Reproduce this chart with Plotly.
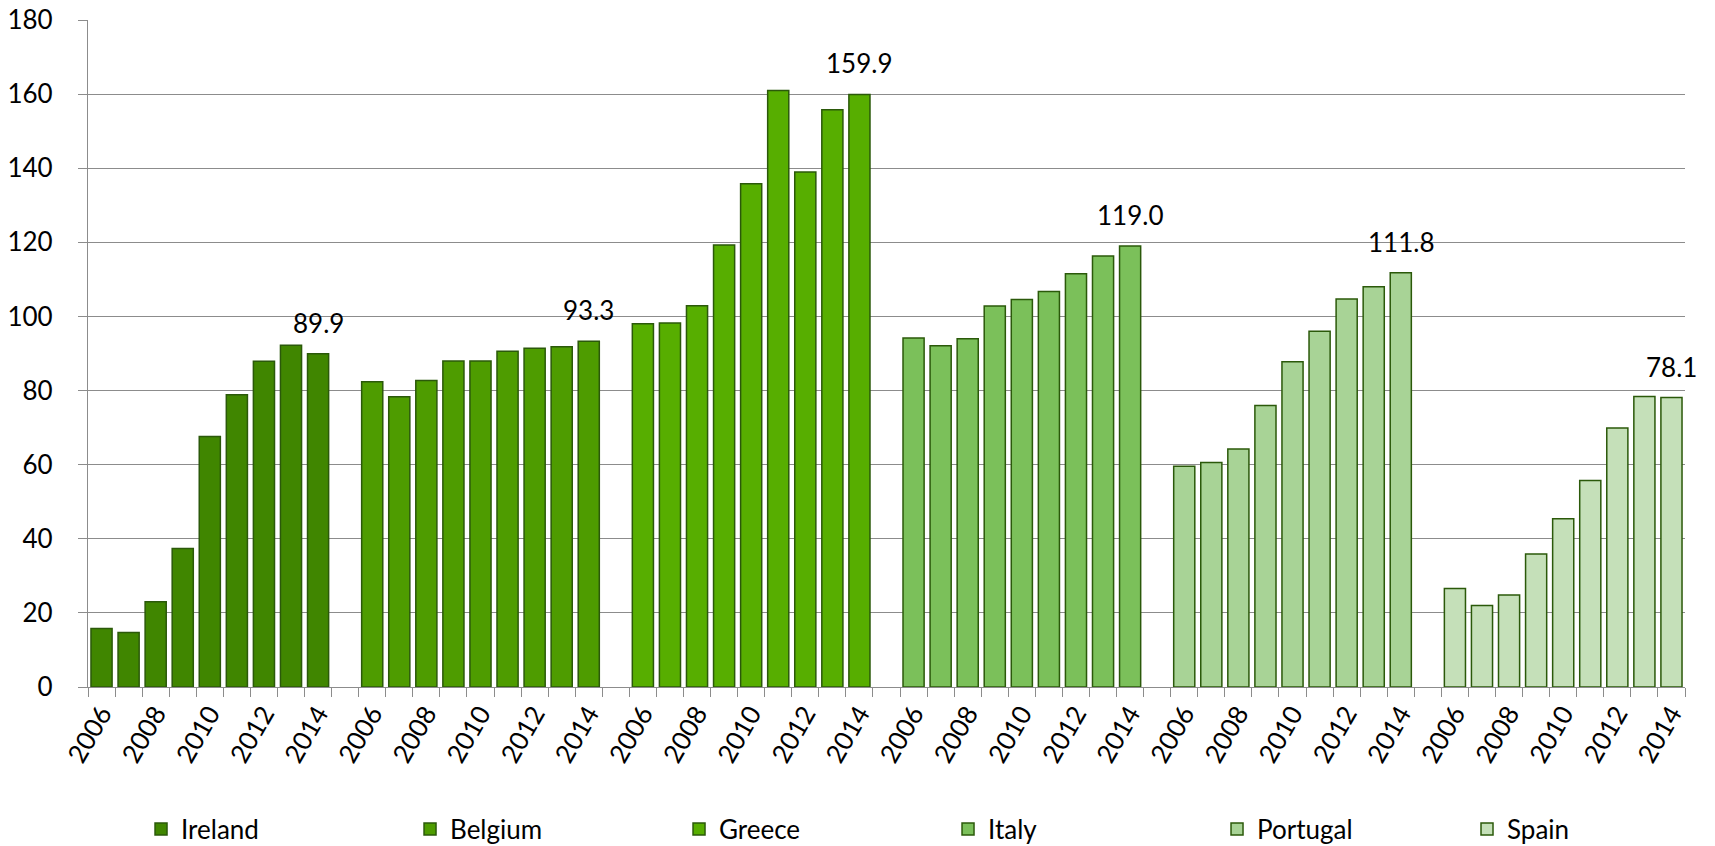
import plotly.graph_objects as go

years = [2006, 2007, 2008, 2009, 2010, 2011, 2012, 2013, 2014]
countries = ["Ireland", "Belgium", "Greece", "Italy", "Portugal", "Spain"]

ireland = [15.8, 14.7, 23.0, 37.4, 67.6, 78.9, 87.9, 92.2, 89.9]
belgium = [82.4, 78.3, 82.7, 88.0, 88.0, 90.6, 91.4, 91.8, 93.3]
greece = [98.0, 98.2, 102.9, 119.3, 135.8, 161.0, 139.0, 155.8, 159.9]
italy = [94.2, 92.1, 94.0, 102.8, 104.6, 106.7, 111.5, 116.3, 119.0]
portugal = [59.6, 60.6, 64.2, 76.0, 87.8, 96.0, 104.7, 108.0, 111.8]
spain = [26.6, 22.0, 24.8, 35.9, 45.4, 55.7, 69.9, 78.4, 78.1]

series = [ireland, belgium, greece, italy, portugal, spain]
colors = ["#408600", "#4e9c00", "#57ae00", "#7bc05a", "#a8d396", "#c5e0b9"]
edge = "#2b590a"
grid = "#8c8c8c"
font = "Lato, 'Open Sans', sans-serif"

# each country gets 9 slots plus one empty slot before the next one
slot = len(years) + 1

fig = go.Figure()
tickvals, ticktext = [], []
for g, (name, vals, col) in enumerate(zip(countries, series, colors)):
    xs = [g * slot + i for i in range(len(years))]
    fig.add_trace(go.Bar(
        x=xs, y=vals, name=name,
        marker=dict(color=col, line=dict(color=edge, width=1.5)),
        width=0.78,
        hoverinfo="x+y",
        # the last legend entry sits in its own box so the row keeps Excel's spacing
        legend="legend2" if g == len(countries) - 1 else "legend",
    ))
    # value label over the latest year
    fig.add_annotation(
        x=xs[-1], y=vals[-1], text=f"{vals[-1]:.1f}",
        showarrow=False, yanchor="bottom", yshift=13,
        font=dict(size=26, color="black", family=font),
    )
    for i, yr in enumerate(years):
        if yr % 2 == 0:
            tickvals.append(g * slot + i)
            ticktext.append(str(yr))

n_slots = len(countries) * slot - 1

legend_style = dict(
    orientation="h", xanchor="left", y=-0.213, yanchor="middle",
    entrywidth=224, entrywidthmode="pixels",
    font=dict(size=26), traceorder="normal", bgcolor="rgba(0,0,0,0)",
)

fig.update_layout(
    width=1707, height=838,
    paper_bgcolor="white", plot_bgcolor="white",
    margin=dict(l=80, r=30, t=12, b=159, autoexpand=False),
    barmode="overlay",
    font=dict(family=font, size=26, color="black"),
    legend=dict(x=0.0332, **legend_style),
    legend2=dict(x=0.8635, **legend_style),
)
fig.update_xaxes(
    range=[-0.5, n_slots - 0.5],
    tickmode="array", tickvals=tickvals, ticktext=ticktext,
    tickangle=-60, ticks="", showgrid=False,
    showline=True, linecolor=grid, linewidth=1.3,
    tickfont=dict(size=26), ticklabeloverflow="allow",
    minor=dict(tick0=-0.5, dtick=1, ticks="outside", ticklen=9,
               tickcolor=grid, tickwidth=1.3, showgrid=False),
)
fig.update_yaxes(
    range=[0, 180], dtick=20,
    showgrid=True, gridcolor=grid, gridwidth=1.3,
    showline=True, linecolor=grid, linewidth=1.3,
    ticks="outside", ticklen=9, tickcolor=grid, tickwidth=1.3,
    ticklabelstandoff=20, ticklabeloverflow="allow",
    tickfont=dict(size=26), zeroline=False,
)

fig.write_html("out.html")
